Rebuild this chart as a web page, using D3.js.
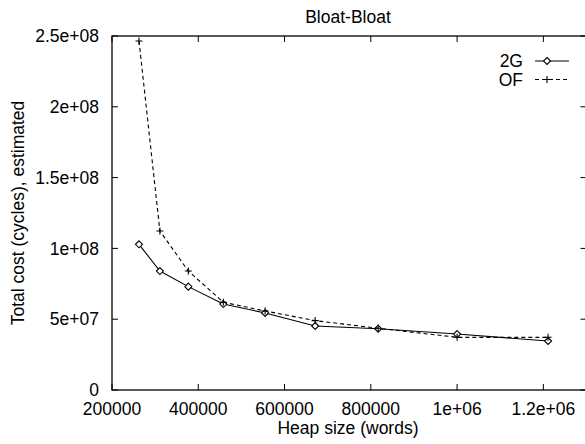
<!DOCTYPE html>
<html>
<head>
<meta charset="utf-8">
<script src="https://cdn.jsdelivr.net/npm/d3@7"></script>
<style>
  body { margin: 0; background: #fff; }
  svg { display: block; font-family: "Liberation Sans", Arial, sans-serif; }
</style>
</head>
<body>
<svg id="chart"></svg>
<script>
// heap sizes (words) and estimated total cost for each collector
const heapSizes = [262600, 311000, 377000, 458000, 555000, 671000, 817000, 1000000, 1211000];
const cost2G = [1.029e8, 8.40e7, 7.30e7, 6.07e7, 5.44e7, 4.52e7, 4.33e7, 3.95e7, 3.46e7];
const costOF = [2.465e8, 1.123e8, 8.40e7, 6.20e7, 5.58e7, 4.90e7, 4.36e7, 3.72e7, 3.72e7];
const xTicks = [200000, 400000, 600000, 800000, 1000000, 1200000];
const yTicks = [0, 5e7, 1e8, 1.5e8, 2e8, 2.5e8];
const xTickLabels = ["200000", "400000", "600000", "800000", "1e+06", "1.2e+06"];
const yTickLabels = ["0", "5e+07", "1e+08", "1.5e+08", "2e+08", "2.5e+08"];

const width = 585;
const height = 444;
const margin = { top: 36, right: -1.5, bottom: 54, left: 112 };

const svg = d3.select("#chart")
    .attr("width", width)
    .attr("height", height);

const x = d3.scaleLinear()
    .domain([200000, 1300000])
    .range([margin.left, width - margin.right]);

const y = d3.scaleLinear()
    .domain([0, 2.5e8])
    .range([height - margin.bottom, margin.top]);

const fontSize = "17.5px";
const tickLen = 6;

// frame
svg.append("rect")
    .attr("x", x.range()[0])
    .attr("y", y.range()[1])
    .attr("width", x.range()[1] - x.range()[0])
    .attr("height", y.range()[0] - y.range()[1])
    .attr("fill", "none")
    .attr("stroke", "#000")
    .attr("stroke-width", 1.3);

// x ticks, bottom and top (inward)
xTicks.forEach((t, i) => {
    svg.append("line")
        .attr("x1", x(t)).attr("x2", x(t))
        .attr("y1", y(0)).attr("y2", y(0) - tickLen)
        .attr("stroke", "#000");
    svg.append("line")
        .attr("x1", x(t)).attr("x2", x(t))
        .attr("y1", y(2.5e8)).attr("y2", y(2.5e8) + tickLen)
        .attr("stroke", "#000");
    svg.append("text")
        .attr("x", x(t))
        .attr("y", 415)
        .attr("text-anchor", "middle")
        .style("font-size", fontSize)
        .text(xTickLabels[i]);
});

// y ticks, left and right
yTicks.forEach((t, i) => {
    svg.append("line")
        .attr("x1", x.range()[0]).attr("x2", x.range()[0] + tickLen)
        .attr("y1", y(t)).attr("y2", y(t))
        .attr("stroke", "#000");
    svg.append("line")
        .attr("x1", x.range()[1]).attr("x2", x.range()[1] - tickLen)
        .attr("y1", y(t)).attr("y2", y(t))
        .attr("stroke", "#000");
    svg.append("text")
        .attr("x", 99)
        .attr("y", y(t))
        .attr("dy", "0.35em")
        .attr("text-anchor", "end")
        .style("font-size", fontSize)
        .text(yTickLabels[i]);
});

// titles
svg.append("text")
    .attr("x", 348)
    .attr("y", 23)
    .attr("text-anchor", "middle")
    .style("font-size", fontSize)
    .text("Bloat-Bloat");

svg.append("text")
    .attr("x", 348)
    .attr("y", 434)
    .attr("text-anchor", "middle")
    .style("font-size", fontSize)
    .text("Heap size (words)");

svg.append("text")
    .attr("transform", "translate(24, 213) rotate(-90)")
    .attr("text-anchor", "middle")
    .style("font-size", fontSize)
    .text("Total cost (cycles), estimated");

// series
const series = [
    { name: "2G", values: cost2G, dash: null, marker: "diamond", ly: 61 },
    { name: "OF", values: costOF, dash: "4,3", marker: "plus", ly: 79.5 }
];

const line = d3.line()
    .x(d => x(d[0]))
    .y(d => y(d[1]));

function drawMarker(g, type, cx, cy) {
    if (type === "diamond") {
        g.append("path")
            .attr("d", `M${cx},${cy - 3.5}L${cx + 3.5},${cy}L${cx},${cy + 3.5}L${cx - 3.5},${cy}Z`)
            .attr("fill", "#fff")
            .attr("stroke", "#000")
            .attr("stroke-width", 1.1);
    } else {
        g.append("path")
            .attr("d", `M${cx - 3.5},${cy}H${cx + 3.5}M${cx},${cy - 3.5}V${cy + 3.5}`)
            .attr("stroke", "#000")
            .attr("stroke-width", 1.1);
    }
}

series.forEach(s => {
    const pts = heapSizes.map((h, i) => [h, s.values[i]]);
    const g = svg.append("g");
    g.append("path")
        .datum(pts)
        .attr("d", line)
        .attr("fill", "none")
        .attr("stroke", "#000")
        .attr("stroke-width", 1.1)
        .attr("stroke-dasharray", s.dash);
    pts.forEach(p => drawMarker(g, s.marker, x(p[0]), y(p[1])));

    // legend entry
    svg.append("text")
        .attr("x", 523)
        .attr("y", s.ly)
        .attr("dy", "0.35em")
        .attr("text-anchor", "end")
        .style("font-size", fontSize)
        .text(s.name);
    const lg = svg.append("g");
    lg.append("line")
        .attr("x1", 535).attr("x2", 569)
        .attr("y1", s.ly).attr("y2", s.ly)
        .attr("stroke", "#000")
        .attr("stroke-width", 1.1)
        .attr("stroke-dasharray", s.dash);
    drawMarker(lg, s.marker, 547, s.ly);
});
</script>
</body>
</html>
